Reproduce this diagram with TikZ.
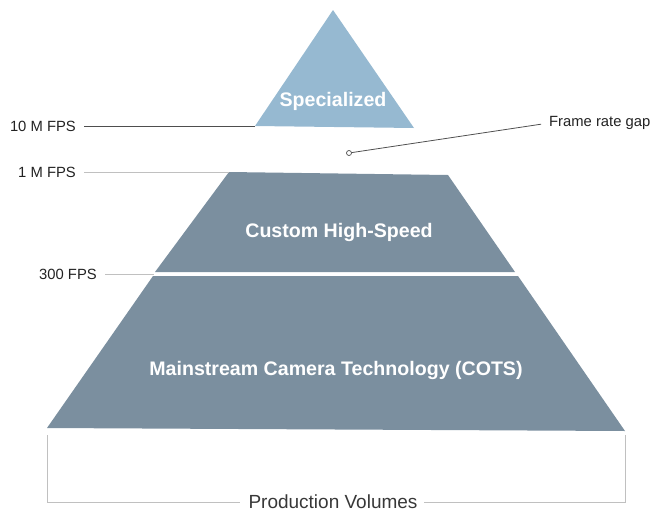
\documentclass[tikz,border=0pt]{standalone}
\usepackage{fontspec}
\setmainfont{Liberation Sans}
\usetikzlibrary{positioning,calc}
\definecolor{TopBlue}{RGB}{150,185,209}
\definecolor{SlateGray}{RGB}{123,143,159}
\definecolor{LeaderGray}{RGB}{192,192,192}
\definecolor{LabelInk}{RGB}{34,34,34}

\begin{document}
\begin{tikzpicture}[x=1pt, y=-1pt,
	layer/.style={text=white, font=\bfseries\fontsize{19.6}{22}\selectfont, inner sep=0pt},
	fps/.style={text=LabelInk, font=\fontsize{14.8}{17}\selectfont, anchor=east, inner sep=0pt},
	leader/.style={LeaderGray, line width=0.8pt}]
	\useasboundingbox (0,0) rectangle (654,512);
	
	% corners of the three layers
	\coordinate (apex) at (333,10);
	\coordinate (topL) at (255,126);
	\coordinate (topR) at (414,128);
	\coordinate (midTL) at (229,172);
	\coordinate (midTR) at (448,175);
	\coordinate (midBL) at (155,272);
	\coordinate (midBR) at (515,272);
	\coordinate (lowTL) at (153,276);
	\coordinate (lowTR) at (518,276);
	\coordinate (lowBL) at (47,428);
	\coordinate (lowBR) at (625,431);
	\coordinate (split) at (154,274);
	
	\fill[TopBlue] (apex) -- (topR) -- (topL) -- cycle;
	\fill[SlateGray] (midTL) -- (midTR) -- (midBR) -- (midBL) -- cycle;
	\fill[SlateGray] (lowTL) -- (lowTR) -- (lowBR) -- (lowBL) -- cycle;
	
	\node[layer] (special) at (333,101) {Specialized};
	\node[layer] (custom) at (339,232) {Custom High-Speed};
	\node[layer] (cots) at (336,370) {Mainstream Camera Technology (COTS)};
	
	% frame rate marks on the left
	\node[fps] (fps10M) at (76,126) {10 M FPS};
	\node[fps] (fps1M) at (76,172) {1 M FPS};
	\node[fps] (fps300) at (97,274) {300 FPS};
	\draw[LabelInk!80, line width=0.8pt, shorten <=8pt] (fps10M.east) -- (topL);
	\draw[leader, shorten <=8pt] (fps1M.east) -- (midTL);
	\draw[leader, shorten <=8pt] (fps300.east) -- (split);
	
	% gap between the top and the middle layer
	\node[text=LabelInk, font=\fontsize{14.8}{17}\selectfont, anchor=west, inner sep=0pt] (gap) at (549,123) {Frame rate gap};
	\coordinate (gapDot) at (349,153);
	\draw[LabelInk!80, line width=0.8pt, shorten <=2.5pt, shorten >=8pt] (gapDot) -- (gap.west);
	\draw[LabelInk!80, line width=0.7pt, fill=white] (gapDot) circle (2.5pt);
	
	% bracket below the pyramid
	\node[text=LabelInk!90, font=\fontsize{19}{22}\selectfont, inner sep=0pt] (volumes) at (333,502) {Production Volumes};
	\coordinate (brkL) at (47,435);
	\coordinate (brkR) at (625,435);
	\draw[leader] (brkL) -- (brkL |- volumes) -- ([xshift=-8pt]volumes.west);
	\draw[leader] (brkR) -- (brkR |- volumes) -- ([xshift=6pt]volumes.east);
\end{tikzpicture}
\end{document}
